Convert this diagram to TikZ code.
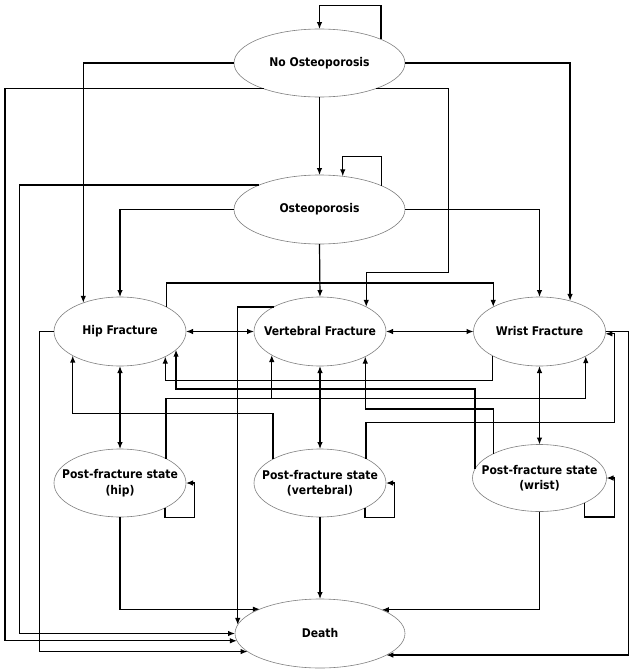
\documentclass[tikz,border=0pt]{standalone}
\usepackage{fontspec}
\setmainfont{DejaVu Sans}[FakeStretch=0.9]
\usetikzlibrary{arrows.meta,shapes.geometric}
\tikzset{
  state/.style={ellipse, draw=black!50, line width=0.6pt, fill=white, inner sep=0pt, outer sep=0pt},
  lbl/.style={align=center, font=\fontsize{12}{15.5}\selectfont\bfseries, inner sep=0pt},
  tip/.style={},
  arr/.style={line width=1.2pt, -{Latex[length=7pt,width=5.5pt]}},
  darr/.style={line width=1.2pt, {Latex[length=7pt,width=5.5pt]}-{Latex[length=7pt,width=5.5pt]}},
}
\begin{document}
\begin{tikzpicture}[x=1pt,y=-1pt]
\fill[white] (0,0) rectangle (634,672);
\useasboundingbox (0,0) rectangle (634,672);

% states
\node[state, minimum width=171pt, minimum height=68pt, label={[lbl]center:No Osteoporosis}] (no) at (319.5,63) {};
\node[state, minimum width=171pt, minimum height=69pt, label={[lbl]center:Osteoporosis}] (os) at (319.5,209.5) {};
\node[state, minimum width=132pt, minimum height=69pt, label={[lbl]center:Hip Fracture}] (hip) at (120,331.5) {};
\node[state, minimum width=132pt, minimum height=69pt, label={[lbl]center:Vertebral Fracture}] (vert) at (320,331.5) {};
\node[state, minimum width=132pt, minimum height=69pt, label={[lbl]center:Wrist Fracture}] (wri) at (539.5,331.5) {};
\node[state, minimum width=132pt, minimum height=68pt, label={[lbl]center:Post-fracture state\\(hip)}] (pfh) at (120,483) {};
\node[state, minimum width=132pt, minimum height=68pt, label={[lbl]center:Post-fracture state\\(vertebral)}] (pfv) at (320,483) {};
\node[state, minimum width=134pt, minimum height=67pt, label={[lbl]center:Post-fracture state\\(wrist)}] (pfw) at (539.5,478) {};
\node[state, minimum width=170pt, minimum height=69pt, label={[lbl]center:Death}] (death) at (320,633.5) {};

% helper coordinates
\coordinate (c5) at (5,0);
\coordinate (c19) at (19.4,0);
\coordinate (c39) at (39.3,0);
\coordinate (k1) at (448.3,272.7);
\path (vert.206.97) ++(0,43.7) coordinate (kpv);

% No osteoporosis
\draw[arr] (no.21.66) -- ++(0,-34) -| (no.north);
\draw[arr] (no.south) -- (os.north);
\draw[arr] (no.west) -| (hip.142.33);
\draw[arr] (no.east) -| (wri.45.1);
\draw[arr] (no.205.27) -- (c5 |- no.205.27) |- (death.185.17);
\draw[arr] (no.336.66) -| (k1) -| (vert.28.58);

% Osteoporosis
\draw[arr] (os.21.95) -- ++(0,-29) -| (os.55.05);
\draw[arr] (os.south) -- (vert.north);
\draw[arr] (os.west) -| (hip.north);
\draw[arr] (os.east) -| (wri.north);
\draw[arr] (os.158.97) -- (c19 |- os.158.97) |- (death.west);

% Fractures
\draw[darr] (hip.east) -- (vert.west);
\draw[darr] (vert.east) -- (wri.west);
\draw[arr] (hip.28.27) -- ++(0,-24) -| (wri.152.53);
\draw[arr] (vert.152.2) -| (death.174.5);
\draw[arr] (hip.west) -- (c39 |- hip.west) |- (death.194.15);
\draw[arr] (wri.207.06) -- ++(0,25) -| (hip.331.42);
\draw[arr] (wri.east) -- ++(22.8,0) |- (death.342.08);

% Post-fracture states back to fractures
\draw[arr] (pfw.172.88) -- ++(0,-80) -| (hip.342.7);
\draw[arr] (pfw.152.78) -- ++(0,-44.7) -| (vert.331.42);
\draw[arr] (pfh.28.22) |- (kpv) -- (vert.206.97);
\draw[arr] (kpv) -| (wri.332.24);
\draw[arr] (pfv.153.38) -- ++(0,-45.3) -| (hip.207.26);
\draw[arr] (pfv.28.22) -- ++(0,-35.8) -- ++(248.6,0) |- (wri.358.26);

% fracture <-> post-fracture
\draw[darr] (hip.south) -- (pfh.north);
\draw[darr] (vert.south) -- (pfv.north);
\draw[darr] (wri.south) -- (pfw.north);

% post-fracture -> death
\draw[arr] (pfh.south) |- (death.158.22);
\draw[arr] (pfv.south) -- (death.north);
\draw[arr] (pfw.south) |- (death.21.78);

% self loops
\draw[arr] (pfh.331.78) -- ++(0,9.2) -- ++(29.8,0) |- (pfh.east);
\draw[arr] (pfv.331.78) -- ++(0,9.2) -- ++(29.8,0) |- (pfv.east);
\draw[arr] (pfw.331.61) -- ++(0,14.1) -- ++(30,0) |- (pfw.east);
\end{tikzpicture}
\end{document}
